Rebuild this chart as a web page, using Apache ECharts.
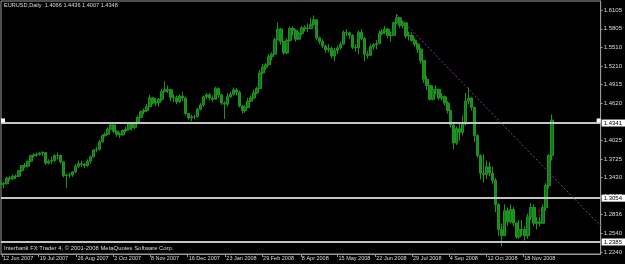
<!DOCTYPE html>
<html><head><meta charset="utf-8">
<script src="https://cdn.jsdelivr.net/npm/echarts@6/dist/echarts.min.js"></script>
<style>html,body{margin:0;padding:0;background:#000;}#c{width:625px;height:264px;}</style>
</head><body><div id="c"></div>
<script>
// ---- data ----
const startDate = [2007, 5, 11];   // first bucket (year, monthIndex, day)
const stepDays = 3;                 // each candle = 3 calendar days
const firstOpen = 1.3320;
const closes = [
1.3330,1.3330,1.3420,1.3410,1.3450,1.3450,1.3540,1.3620,1.3610,1.3690,
1.3780,1.3790,1.3800,1.3820,1.3830,1.3660,1.3690,1.3700,1.3780,1.3780,
1.3680,1.3460,1.3470,1.3470,1.3520,1.3610,1.3650,1.3640,1.3620,1.3690,
1.3760,1.3870,1.3880,1.4000,1.4100,1.4120,1.4200,1.4270,1.4170,1.4120,
1.4110,1.4180,1.4200,1.4290,1.4230,1.4290,1.4390,1.4480,1.4500,1.4560,
1.4700,1.4620,1.4630,1.4680,1.4800,1.4830,1.4830,1.4710,1.4700,1.4640,
1.4730,1.4700,1.4450,1.4380,1.4400,1.4400,1.4520,1.4590,1.4720,1.4750,
1.4700,1.4680,1.4850,1.4750,1.4620,1.4600,1.4720,1.4760,1.4830,1.4790,
1.4570,1.4500,1.4550,1.4650,1.4700,1.4780,1.4850,1.5100,1.5190,1.5230,
1.5360,1.5400,1.5630,1.5800,1.5600,1.5420,1.5620,1.5810,1.5780,1.5640,
1.5730,1.5820,1.5810,1.5810,1.5870,1.5950,1.5660,1.5600,1.5530,1.5470,
1.5490,1.5370,1.5460,1.5500,1.5560,1.5750,1.5740,1.5700,1.5510,1.5500,
1.5750,1.5650,1.5400,1.5380,1.5520,1.5550,1.5570,1.5730,1.5760,1.5800,
1.5700,1.5700,1.5900,1.5980,1.5860,1.5900,1.5690,1.5700,1.5620,1.5560,
1.5480,1.5300,1.5000,1.4900,1.4680,1.4830,1.4840,1.4700,1.4720,1.4620,
1.4500,1.4270,1.3980,1.4210,1.4150,1.4280,1.4650,1.4700,1.4550,1.4100,
1.3780,1.3500,1.3480,1.3600,1.3500,1.3380,1.3000,1.2600,1.2500,1.2900,
1.2720,1.2920,1.2700,1.2480,1.2600,1.2600,1.2500,1.2800,1.2950,1.2700,
1.2720,1.2700,1.2950,1.3300,1.3780,1.4348];
const highs = [
1.3370,1.3360,1.3440,1.3450,1.3480,1.3480,1.3550,1.3630,1.3660,1.3700,
1.3790,1.3820,1.3830,1.3840,1.3850,1.3830,1.3720,1.3760,1.3800,1.3830,
1.3800,1.3690,1.3490,1.3510,1.3530,1.3640,1.3700,1.3700,1.3660,1.3720,
1.3780,1.3880,1.3920,1.4030,1.4120,1.4150,1.4230,1.4280,1.4270,1.4180,
1.4150,1.4200,1.4240,1.4310,1.4320,1.4320,1.4420,1.4500,1.4530,1.4600,
1.4750,1.4720,1.4700,1.4700,1.4850,1.4967,1.4900,1.4850,1.4760,1.4740,
1.4760,1.4800,1.4720,1.4460,1.4430,1.4430,1.4540,1.4620,1.4740,1.4780,
1.4780,1.4740,1.4880,1.4870,1.4760,1.4650,1.4780,1.4800,1.4870,1.4860,
1.4820,1.4590,1.4580,1.4700,1.4740,1.4830,1.4880,1.5150,1.5240,1.5260,
1.5400,1.5430,1.5660,1.5904,1.5820,1.5600,1.5650,1.5840,1.5840,1.5800,
1.5760,1.5850,1.5860,1.5890,1.5980,1.6019,1.5950,1.5680,1.5640,1.5550,
1.5560,1.5520,1.5500,1.5540,1.5600,1.5780,1.5800,1.5760,1.5720,1.5560,
1.5780,1.5800,1.5680,1.5450,1.5560,1.5580,1.5620,1.5780,1.5800,1.5850,
1.5820,1.5760,1.5920,1.6038,1.5990,1.5930,1.5900,1.5760,1.5750,1.5650,
1.5580,1.5500,1.5300,1.5050,1.4900,1.4900,1.4900,1.4840,1.4780,1.4740,
1.4650,1.4500,1.4280,1.4240,1.4290,1.4420,1.4780,1.4867,1.4710,1.4560,
1.4120,1.3800,1.3800,1.3700,1.3680,1.3600,1.3420,1.3020,1.2700,1.3000,
1.2950,1.3000,1.2960,1.2720,1.2750,1.2750,1.2650,1.2850,1.3020,1.3000,
1.2800,1.2800,1.3000,1.3340,1.3800,1.4436];
const lows = [
1.3300,1.3260,1.3320,1.3380,1.3390,1.3410,1.3440,1.3520,1.3580,1.3590,
1.3680,1.3750,1.3760,1.3780,1.3780,1.3630,1.3640,1.3640,1.3680,1.3720,
1.3650,1.3430,1.3260,1.3420,1.3440,1.3500,1.3580,1.3600,1.3580,1.3600,
1.3650,1.3750,1.3830,1.3860,1.3990,1.4080,1.4110,1.4190,1.4140,1.4080,
1.4060,1.4100,1.4150,1.4180,1.4180,1.4200,1.4280,1.4380,1.4440,1.4470,
1.4560,1.4600,1.4570,1.4560,1.4650,1.4800,1.4780,1.4650,1.4640,1.4600,
1.4620,1.4650,1.4420,1.4350,1.4330,1.4360,1.4390,1.4500,1.4560,1.4680,
1.4660,1.4640,1.4680,1.4700,1.4590,1.4365,1.4560,1.4700,1.4740,1.4740,
1.4550,1.4450,1.4460,1.4540,1.4640,1.4680,1.4760,1.4850,1.5080,1.5150,
1.5220,1.5300,1.5400,1.5620,1.5550,1.5385,1.5400,1.5600,1.5700,1.5600,
1.5630,1.5700,1.5760,1.5750,1.5800,1.5860,1.5620,1.5560,1.5500,1.5420,
1.5430,1.5330,1.5285,1.5400,1.5470,1.5550,1.5690,1.5640,1.5480,1.5440,
1.5400,1.5620,1.5285,1.5330,1.5380,1.5470,1.5480,1.5560,1.5700,1.5720,
1.5650,1.5600,1.5700,1.5880,1.5820,1.5820,1.5650,1.5620,1.5600,1.5520,
1.5420,1.5250,1.4940,1.4830,1.4660,1.4660,1.4760,1.4670,1.4660,1.4580,
1.4450,1.4230,1.3882,1.3950,1.4020,1.4100,1.4260,1.4600,1.4500,1.4000,
1.3750,1.3400,1.3350,1.3400,1.3450,1.3330,1.2880,1.2500,1.2330,1.2500,
1.2650,1.2700,1.2650,1.2450,1.2450,1.2500,1.2424,1.2450,1.2750,1.2650,
1.2600,1.2650,1.2700,1.2900,1.3250,1.3700];
const yTickLabels = ['1.6105','1.5805','1.5510','1.5210','1.4915','1.4620','1.4025','1.3725','1.3430','1.3135','1.2836','1.2540','1.2240'];
const xTickLabels = ['12 Jun 2007','19 Jul 2007','26 Aug 2007','2 Oct 2007','8 Nov 2007','16 Dec 2007','23 Jan 2008','29 Feb 2008','8 Apr 2008','15 May 2008','22 Jun 2008','29 Jul 2008','4 Sep 2008','12 Oct 2008','18 Nov 2008'];
const levelLines = [1.4341, 1.3054, 1.2385];
const trendLine = [['2008-07-14', 1.6025], ['2009-02-04', 1.2655]];
const boxArea = [['2008-12-04', 1.2911], ['2008-12-08', 1.2815]];
const headerText = 'EURUSD,Daily  1.4066 1.4436 1.4007 1.4348';
const footerText = 'Interbank FX Trader 4, \u00a9 2001-2008 MetaQuotes Software Corp.';
const axisRange = { xMin: '2007-06-11', xMax: '2009-02-04', yMin: 1.2208, yMax: 1.6249 };

// ---- build ----
const MONTHS = {Jan:0,Feb:1,Mar:2,Apr:3,May:4,Jun:5,Jul:6,Aug:7,Sep:8,Oct:9,Nov:10,Dec:11};
function iso(s){ const p = s.split('-').map(Number); return new Date(p[0], p[1]-1, p[2]).getTime(); }
function parseLabel(s){ const p = s.split(' '); return new Date(+p[2], MONTHS[p[1]], +p[0]).getTime(); }
const xTickVals = xTickLabels.map(parseLabel);
const xLabelMap = {}; xTickLabels.forEach((s,i)=>{ xLabelMap[xTickVals[i]] = s; });
const yTickVals = yTickLabels.map(Number);

const candles = closes.map((c, i) => {
  const t = new Date(startDate[0], startDate[1], startDate[2] + i*stepDays).getTime();
  const o = i === 0 ? firstOpen : closes[i-1];
  return [t, o, c, lows[i], highs[i]];
});

const FONT = 'Liberation Sans';
const GRAY = '#9a9a9a';
const TXT = '#dcdcdc';

const chart = echarts.init(document.getElementById('c'), null, {renderer:'canvas'});
chart.setOption({
  backgroundColor: '#000',
  animation: false,
  grid: { left: 1, right: 22, top: 1, bottom: 10, show: true, borderColor: GRAY, borderWidth: 1, backgroundColor: '#000' },
  xAxis: {
    type: 'value', min: iso(axisRange.xMin), max: iso(axisRange.xMax),
    axisLine: { show: true, lineStyle: { color: GRAY, width: 1 } },
    axisTick: { show: true, customValues: xTickVals, length: 3, lineStyle: { color: GRAY } },
    axisLabel: { customValues: xTickVals, formatter: v => xLabelMap[v] || '', color: TXT, fontSize: 5.5,
      fontFamily: FONT, align: 'left', margin: 1, padding: [0,0,0,1] },
    splitLine: { show: false }
  },
  yAxis: {
    type: 'value', position: 'right', min: axisRange.yMin, max: axisRange.yMax,
    axisLine: { show: true, lineStyle: { color: GRAY, width: 1 } },
    axisTick: { show: true, customValues: yTickVals, length: 2, lineStyle: { color: GRAY } },
    axisLabel: { customValues: yTickVals, formatter: v => v.toFixed(4), color: TXT, fontSize: 6, fontFamily: FONT, margin: 3 },
    splitLine: { show: false }
  },
  graphic: [
    { type: 'text', left: 4, top: 2, style: { text: headerText, fill: TXT, font: '5.6px "' + FONT + '"' } },
    { type: 'text', left: 4, top: 245, style: { text: footerText, fill: TXT, font: '5.9px "' + FONT + '"' } }
  ],
  series: [{
    type: 'candlestick',
    data: candles,
    barWidth: 3,
    clip: true,
    itemStyle: { color: '#12761a', color0: '#1a8c1a', borderColor: '#1d961d', borderColor0: '#1d961d', borderWidth: 1 },
    markLine: {
      silent: true, symbol: ['none','none'], animation: false,
      data: levelLines.map(v => ({
        yAxis: v,
        lineStyle: { color: '#c4c4c4', width: 2, type: 'solid' },
        label: { show: true, position: 'end', distance: 1, formatter: v.toFixed(4), color: '#000',
          backgroundColor: '#ffffff', fontSize: 6, fontFamily: FONT, padding: [1,3,0,2] }
      })).concat([[
        { coord: [iso(trendLine[0][0]), trendLine[0][1]], lineStyle: { color: '#8a3c9a', width: 1, type: [2,2] }, label: { show: false } },
        { coord: [iso(trendLine[1][0]), trendLine[1][1]] }
      ]])
    },
    markArea: {
      silent: true,
      itemStyle: { color: 'rgba(0,0,0,0)', borderColor: '#b00000', borderWidth: 1 },
      data: [[ { coord: [iso(boxArea[0][0]), boxArea[0][1]] }, { coord: [iso(boxArea[1][0]), boxArea[1][1]] } ]]
    },
    markPoint: {
      silent: true, symbol: 'rect', symbolSize: 4, label: { show: false },
      itemStyle: { color: '#ffffff' },
      data: [ { coord: [iso('2007-06-13'), levelLines[0]] }, { coord: [iso('2009-02-02'), levelLines[0]] } ]
    }
  }]
});
</script>
</body></html>
